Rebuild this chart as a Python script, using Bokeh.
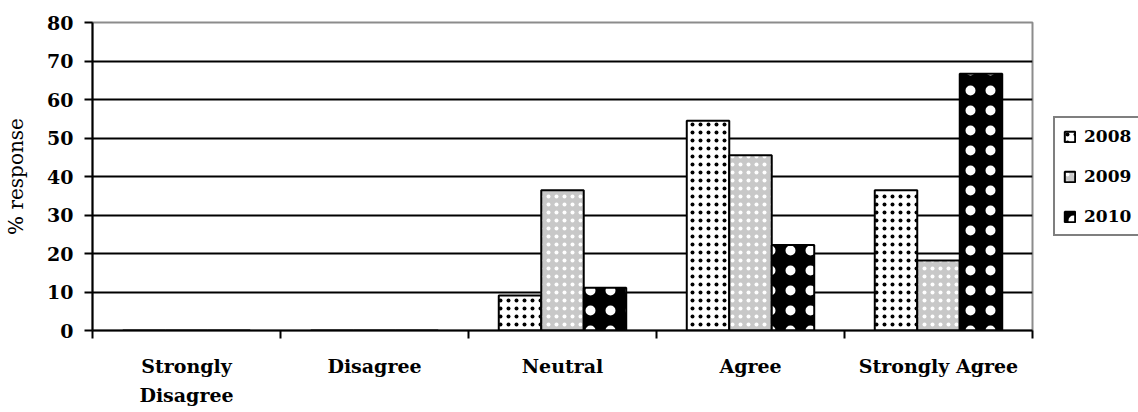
from bokeh.plotting import figure
from bokeh.models import (ColumnDataSource, FixedTicker, Legend, LegendItem,
                          Range1d, LinearAxis, Grid)
from bokeh.transform import dodge
from bokeh.embed import file_html
from bokeh.resources import INLINE

categories = ["Strongly\nDisagree", "Disagree", "Neutral", "Agree", "Strongly Agree"]
years = ["2008", "2009", "2010"]
v2008 = [0, 0, 9.1, 54.5, 36.4]
v2009 = [0, 0, 36.4, 45.5, 18.2]
v2010 = [0, 0, 11.1, 22.2, 66.7]
y_ticks = [0, 10, 20, 30, 40, 50, 60, 70, 80]
grid_ticks = [10, 20, 30, 40, 50, 60, 70]

FONT = "DejaVu Serif"

centers = [i + 0.5 for i in range(len(categories))]
source = ColumnDataSource(dict(x=centers, v2008=v2008, v2009=v2009, v2010=v2010))

p = figure(frame_width=940, frame_height=308, output_backend="svg", toolbar_location=None,
           x_range=Range1d(0, len(categories)), y_range=Range1d(0, 80),
           x_axis_type=None, y_axis_type=None,
           min_border_left=92, min_border_right=106, min_border_top=22, min_border_bottom=80)
p.background_fill_color = "white"
p.border_fill_color = "white"
p.outline_line_color = "#8c8c8c"
p.outline_line_width = 2

grid = Grid(dimension=1, ticker=FixedTicker(ticks=grid_ticks),
            grid_line_color="black", grid_line_width=2)
p.add_layout(grid)

bw = 0.226
styles = [
    dict(fill_color="white", hatch_pattern=".", hatch_color="black", hatch_scale=8, hatch_weight=1),
    dict(fill_color="#c8c8c8", hatch_pattern=".", hatch_color="white", hatch_scale=8, hatch_weight=1),
    dict(fill_color="black", hatch_pattern=".", hatch_color="white", hatch_scale=20, hatch_weight=1),
]
renderers = []
for k, (yr, off) in enumerate(zip(years, [-bw, 0, bw])):
    r = p.vbar(x=dodge("x", off), top="v" + yr, width=bw, source=source,
               line_color="black", line_width=2, **styles[k])
    renderers.append(r)

yaxis = LinearAxis(ticker=FixedTicker(ticks=y_ticks))
yaxis.axis_line_color = "black"
yaxis.axis_line_width = 2
yaxis.major_tick_line_width = 2
yaxis.major_tick_out = 8
yaxis.major_tick_in = 0
yaxis.minor_tick_line_color = None
yaxis.major_label_standoff = 11
yaxis.major_label_text_font = FONT
yaxis.major_label_text_font_style = "bold"
yaxis.major_label_text_font_size = "19px"
yaxis.major_label_text_color = "black"
yaxis.axis_label = "% response"
yaxis.axis_label_text_font = FONT
yaxis.axis_label_text_font_style = "normal"
yaxis.axis_label_text_font_size = "20px"
yaxis.axis_label_text_color = "black"
yaxis.axis_label_standoff = 16
p.add_layout(yaxis, "left")

xaxis = LinearAxis(ticker=FixedTicker(ticks=centers, minor_ticks=list(range(len(categories) + 1))))
xaxis.major_label_overrides = {c: lab for c, lab in zip(centers, categories)}
xaxis.axis_line_color = "black"
xaxis.axis_line_width = 2
xaxis.major_tick_out = 0
xaxis.major_tick_in = 0
xaxis.major_tick_line_color = None
xaxis.minor_tick_out = 8
xaxis.minor_tick_in = 0
xaxis.minor_tick_line_width = 2
xaxis.minor_tick_line_color = "black"
xaxis.major_label_standoff = 16
xaxis.major_label_text_font = FONT
xaxis.major_label_text_font_style = "bold"
xaxis.major_label_text_font_size = "19px"
xaxis.major_label_text_color = "black"
xaxis.major_label_text_line_height = 1.35
p.add_layout(xaxis, "below")

legend = Legend(items=[LegendItem(label=yr, renderers=[r]) for yr, r in zip(years, renderers)],
                location=(21, 94), orientation="vertical")
legend.label_text_font = FONT
legend.label_text_font_style = "bold"
legend.label_text_font_size = "17px"
legend.label_text_color = "black"
legend.glyph_width = 13
legend.glyph_height = 13
legend.label_standoff = 8
legend.label_height = 20
legend.spacing = 20
legend.padding = 8
legend.margin = 0
legend.border_line_color = "black"
legend.border_line_width = 2
legend.background_fill_color = "white"
p.add_layout(legend, "right")

open("out.html", "w").write(file_html(p, INLINE))
